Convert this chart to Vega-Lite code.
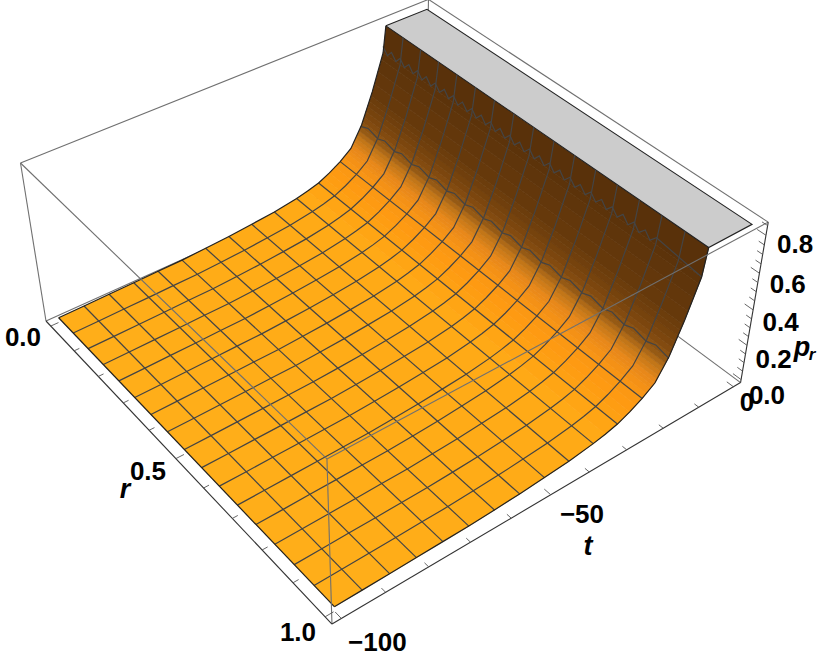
{
"$schema":"https://vega.github.io/schema/vega-lite/v6.json",
"width":830,"height":663,"padding":0,"autosize":{"type":"none"},
"background":"white",
"config":{"view":{"stroke":null}},
"datasets":{
"profile":[{"t":-100,"p":0.009},{"t":-93.75,"p":0.0106},{"t":-87.5,"p":0.013},{"t":-81.25,"p":0.015},{"t":-75,"p":0.018},{"t":-68.75,"p":0.02},{"t":-62.5,"p":0.027},{"t":-56.25,"p":0.035},{"t":-50,"p":0.046},{"t":-43.75,"p":0.059},{"t":-37.5,"p":0.08},{"t":-34.375,"p":0.095},{"t":-31.25,"p":0.114},{"t":-28.125,"p":0.145},{"t":-25,"p":0.184},{"t":-21.875,"p":0.234},{"t":-18.75,"p":0.345},{"t":-15.625,"p":0.511},{"t":-12.5,"p":0.706},{"t":-11.7,"p":0.85}],
"strips":[
{"ta":-100,"tb":-93.75,"pa":0.009,"pb":0.0106,"s":0},
{"ta":-93.75,"tb":-87.5,"pa":0.0106,"pb":0.013,"s":0.02},
{"ta":-87.5,"tb":-81.25,"pa":0.013,"pb":0.015,"s":0.04},
{"ta":-81.25,"tb":-75,"pa":0.015,"pb":0.018,"s":0.06},
{"ta":-75,"tb":-68.75,"pa":0.018,"pb":0.02,"s":0.08},
{"ta":-68.75,"tb":-62.5,"pa":0.02,"pb":0.027,"s":0.1},
{"ta":-62.5,"tb":-56.25,"pa":0.027,"pb":0.035,"s":0.12},
{"ta":-56.25,"tb":-50,"pa":0.035,"pb":0.046,"s":0.14},
{"ta":-50,"tb":-43.75,"pa":0.046,"pb":0.059,"s":0.16},
{"ta":-43.75,"tb":-37.5,"pa":0.059,"pb":0.08,"s":0.18},
{"ta":-37.5,"tb":-34.375,"pa":0.08,"pb":0.095,"s":0.21},
{"ta":-34.375,"tb":-31.25,"pa":0.095,"pb":0.114,"s":0.25},
{"ta":-31.25,"tb":-29.7,"pa":0.114,"pb":0.129,"s":0.29},
{"ta":-29.7,"tb":-28.125,"pa":0.129,"pb":0.145,"s":0.32},
{"ta":-28.125,"tb":-26.56,"pa":0.145,"pb":0.164,"s":0.35},
{"ta":-26.56,"tb":-25,"pa":0.164,"pb":0.184,"s":0.37},
{"ta":-25,"tb":-24,"pa":0.184,"pb":0.2,"s":0.39},
{"ta":-24,"tb":-23,"pa":0.2,"pb":0.216,"s":0.42},
{"ta":-23,"tb":-22.4,"pa":0.216,"pb":0.225,"s":0.45},
{"ta":-22.4,"tb":-21.875,"pa":0.225,"pb":0.234,"s":0.48},
{"ta":-21.875,"tb":-21.4,"pa":0.234,"pb":0.25,"s":0.5},
{"ta":-21.4,"tb":-21,"pa":0.25,"pb":0.265,"s":0.53},
{"ta":-21,"tb":-20.5,"pa":0.265,"pb":0.282,"s":0.56},
{"ta":-20.5,"tb":-20,"pa":0.282,"pb":0.3,"s":0.59},
{"ta":-20,"tb":-19.5,"pa":0.3,"pb":0.318,"s":0.62},
{"ta":-19.5,"tb":-19,"pa":0.318,"pb":0.336,"s":0.65},
{"ta":-19,"tb":-18.5,"pa":0.336,"pb":0.36,"s":0.68},
{"ta":-18.5,"tb":-18,"pa":0.36,"pb":0.385,"s":0.71},
{"ta":-18,"tb":-17.5,"pa":0.385,"pb":0.412,"s":0.74},
{"ta":-17.5,"tb":-17,"pa":0.412,"pb":0.44,"s":0.77},
{"ta":-17,"tb":-16.5,"pa":0.44,"pb":0.465,"s":0.8},
{"ta":-16.5,"tb":-16,"pa":0.465,"pb":0.49,"s":0.82},
{"ta":-16,"tb":-15,"pa":0.49,"pb":0.551,"s":0.85},
{"ta":-15,"tb":-14,"pa":0.551,"pb":0.612,"s":0.89},
{"ta":-14,"tb":-13,"pa":0.612,"pb":0.674,"s":0.93},
{"ta":-13,"tb":-12.5,"pa":0.674,"pb":0.706,"s":0.97},
{"ta":-12.5,"tb":-11.7,"pa":0.706,"pb":0.85,"s":1}
],
"tlines":[
{"t":-93.75,"r":[0,1],"p":[0.0106,0.0106]},
{"t":-87.5,"r":[0,1],"p":[0.013,0.013]},
{"t":-81.25,"r":[0,1],"p":[0.015,0.015]},
{"t":-75,"r":[0,1],"p":[0.018,0.018]},
{"t":-68.75,"r":[0,1],"p":[0.02,0.02]},
{"t":-62.5,"r":[0,1],"p":[0.027,0.027]},
{"t":-56.25,"r":[0,1],"p":[0.035,0.035]},
{"t":-50,"r":[0,1],"p":[0.046,0.046]},
{"t":-43.75,"r":[0,1],"p":[0.059,0.059]},
{"t":-37.5,"r":[0,1],"p":[0.08,0.08]},
{"t":-31.25,"r":[0,1],"p":[0.114,0.114]},
{"t":-25,"r":[0,1],"p":[0.184,0.184]},
{"t":-18.75,"r":[0,0.025,0.0625,0.0875,0.125,0.15,0.1875,0.2125,0.25,0.275,0.3125,0.3375,0.375,0.4,0.4375,0.4625,0.5,0.525,0.5625,0.5875,0.625,0.65,0.6875,0.7125,0.75,0.775,0.8125,0.8375,0.875,0.9,0.9375,0.9625,1],"p":[0.336,0.354,0.336,0.354,0.336,0.354,0.336,0.354,0.336,0.354,0.336,0.354,0.336,0.354,0.336,0.354,0.336,0.354,0.336,0.354,0.336,0.354,0.336,0.354,0.336,0.354,0.336,0.354,0.336,0.354,0.336,0.354,0.336]},
{"t":-12.5,"r":[0,0.016,0.031,0.047,0.0625,0.078,0.094,0.109,0.125,0.141,0.156,0.172,0.1875,0.203,0.219,0.234,0.25,0.266,0.281,0.297,0.3125,0.328,0.344,0.359,0.375,0.391,0.406,0.422,0.4375,0.453,0.469,0.484,0.5,0.516,0.531,0.547,0.5625,0.578,0.594,0.609,0.625,0.641,0.656,0.672,0.6875,0.703,0.719,0.734,0.75,0.766,0.781,0.797,0.8125,0.828,0.844,0.859,0.875,1],"p":[0.742,0.708,0.742,0.708,0.742,0.708,0.742,0.708,0.742,0.708,0.742,0.708,0.742,0.708,0.742,0.708,0.742,0.708,0.742,0.708,0.742,0.708,0.742,0.708,0.742,0.708,0.742,0.708,0.742,0.708,0.742,0.708,0.742,0.708,0.742,0.708,0.742,0.708,0.742,0.708,0.742,0.708,0.742,0.708,0.742,0.708,0.742,0.708,0.742,0.708,0.742,0.708,0.742,0.708,0.742,0.708,0.742,0.706]}
],
"box":[
{"id":"a","g":"back","u":[0,1],"v":[0,0],"w":[1,1]},
{"id":"b","g":"back","u":[1,1],"v":[0,1],"w":[1,1]},
{"id":"c","g":"back","u":[0,0],"v":[0,0],"w":[0,1]},
{"id":"d","g":"back","u":[0,1],"v":[0,0],"w":[0,0]},
{"id":"e","g":"back","u":[1,1],"v":[0,1],"w":[0,0]},
{"id":"f","g":"back","u":[1,1],"v":[0,0],"w":[0,1]},
{"id":"g","g":"front","u":[0,0],"v":[0,1],"w":[1,1]},
{"id":"h","g":"front","u":[0,1],"v":[1,1],"w":[1,1]},
{"id":"i","g":"front","u":[0,0],"v":[1,1],"w":[0,1]},
{"id":"j","g":"axis","u":[0,0],"v":[0,1],"w":[0,0]},
{"id":"k","g":"axis","u":[0,1],"v":[1,1],"w":[0,0]},
{"id":"l","g":"axis","u":[1,1],"v":[1,1],"w":[0,1]}
],
"ticks":[
{"axis":"r","val":0,"len":0.018},{"axis":"r","val":0.1,"len":0.012},{"axis":"r","val":0.2,"len":0.012},{"axis":"r","val":0.3,"len":0.012},{"axis":"r","val":0.4,"len":0.012},{"axis":"r","val":0.5,"len":0.018},{"axis":"r","val":0.6,"len":0.012},{"axis":"r","val":0.7,"len":0.012},{"axis":"r","val":0.8,"len":0.012},{"axis":"r","val":0.9,"len":0.012},{"axis":"r","val":1,"len":0.018},
{"axis":"t","val":-100,"len":0.018},{"axis":"t","val":-90,"len":0.012},{"axis":"t","val":-80,"len":0.012},{"axis":"t","val":-70,"len":0.012},{"axis":"t","val":-60,"len":0.012},{"axis":"t","val":-50,"len":0.018},{"axis":"t","val":-40,"len":0.012},{"axis":"t","val":-30,"len":0.012},{"axis":"t","val":-20,"len":0.012},{"axis":"t","val":-10,"len":0.012},{"axis":"t","val":0,"len":0.018},
{"axis":"p","val":0,"len":0.022},{"axis":"p","val":0.05,"len":0.014},{"axis":"p","val":0.1,"len":0.014},{"axis":"p","val":0.15,"len":0.014},{"axis":"p","val":0.2,"len":0.022},{"axis":"p","val":0.25,"len":0.014},{"axis":"p","val":0.3,"len":0.014},{"axis":"p","val":0.35,"len":0.014},{"axis":"p","val":0.4,"len":0.022},{"axis":"p","val":0.45,"len":0.014},{"axis":"p","val":0.5,"len":0.014},{"axis":"p","val":0.55,"len":0.014},{"axis":"p","val":0.6,"len":0.022},{"axis":"p","val":0.65,"len":0.014},{"axis":"p","val":0.7,"len":0.014},{"axis":"p","val":0.75,"len":0.014},{"axis":"p","val":0.8,"len":0.022},{"axis":"p","val":0.85,"len":0.014}
],
"labels":[
{"kind":"tick","text":"0.0","u":-0.0633,"v":0.0182,"w":0},
{"kind":"tick","text":"0.5","u":-0.0603,"v":0.498,"w":0},
{"kind":"tick","text":"1.0","u":-0.0577,"v":0.9806,"w":0},
{"kind":"tick","text":"−100","u":0.037,"v":1.08,"w":0},
{"kind":"tick","text":"−50","u":0.5115,"v":1.0726,"w":0},
{"kind":"tick","text":"0","u":0.967,"v":1.0487,"w":0},
{"kind":"tick","text":"0.0","u":1,"v":1.068,"w":0.035},
{"kind":"tick","text":"0.2","u":1,"v":1.068,"w":0.269},
{"kind":"tick","text":"0.4","u":1,"v":1.068,"w":0.503},
{"kind":"tick","text":"0.6","u":1,"v":1.068,"w":0.737},
{"kind":"tick","text":"0.8","u":1,"v":1.068,"w":0.971},
{"kind":"name","text":"r","u":-0.1186,"v":0.512,"w":0},
{"kind":"name","text":"t","u":0.4677,"v":1.1366,"w":0},
{"kind":"name","text":"p","u":1,"v":1.126,"w":0.4516},
{"kind":"sub","text":"r","u":1,"v":1.1504,"w":0.4507}
]
},
"encoding":{
"x":{"field":"px","type":"quantitative","scale":{"domain":[0,830],"nice":false,"zero":false},"axis":null},
"y":{"field":"py","type":"quantitative","scale":{"domain":[663,0],"nice":false,"zero":false},"axis":null}
},
"layer":[
{"data":{"name":"box"},
 "transform":[{"filter":"datum.g=='back'"},{"flatten":["u","v","w"]},
  {"calculate":"(46+434*datum.u+230.2*datum.v-26.93*datum.w)/(1+0.127*datum.u-0.168*datum.v-0.0696*datum.w)","as":"px"},
  {"calculate":"(321-152.3*datum.u+198.2*datum.v-169.34*datum.w)/(1+0.127*datum.u-0.168*datum.v-0.0696*datum.w)","as":"py"},
  {"calculate":"datum.u+datum.v+datum.w","as":"o"}],
 "mark":{"type":"line","color":"#707070","strokeWidth":1.1},
 "encoding":{"detail":{"field":"id"},"order":{"field":"o"}}},
{"data":{"name":"strips"},
 "transform":[
  {"calculate":"[datum.ta,datum.ta,datum.tb,datum.tb]","as":"t"},
  {"calculate":"[datum.pa,datum.pa,datum.pb,datum.pb]","as":"p"},
  {"calculate":"[0,1,1,0]","as":"r"},
  {"calculate":"[0,1,2,3]","as":"o"},
  {"flatten":["t","p","r","o"]},
  {"calculate":"0.02+0.0096*(datum.t+100)","as":"u"},
  {"calculate":"0.02+0.96*datum.r","as":"v"},
  {"calculate":"0.02+datum.p/0.85*0.96","as":"w"},
  {"calculate":"(46+434*datum.u+230.2*datum.v-26.93*datum.w)/(1+0.127*datum.u-0.168*datum.v-0.0696*datum.w)","as":"px"},
  {"calculate":"(321-152.3*datum.u+198.2*datum.v-169.34*datum.w)/(1+0.127*datum.u-0.168*datum.v-0.0696*datum.w)","as":"py"}],
 "mark":{"type":"line","strokeWidth":0.7},
 "encoding":{
  "detail":{"field":"ta"},
  "order":{"field":"o"},
  "fill":{"field":"s","type":"quantitative","legend":null,"scale":{"domain":[0,0.2,0.35,0.5,0.6,0.65,0.72,0.85,1],"range":["#FFAE19","#FFAA16","#FE9A12","#E8881A","#BE7418","#965A14","#80490F","#66390B","#59310A"]}},
  "stroke":{"field":"s","type":"quantitative","legend":null,"scale":{"domain":[0,0.2,0.35,0.5,0.6,0.65,0.72,0.85,1],"range":["#FFAE19","#FFAA16","#FE9A12","#E8881A","#BE7418","#965A14","#80490F","#66390B","#59310A"]}}}},
{"data":{"values":[{"t":[-11.7,-11.7,0,0,-11.7],"r":[0,1,1,0,0],"o":[0,1,2,3,4],"p":0.85}]},
 "transform":[{"flatten":["t","r","o"]},
  {"calculate":"0.02+0.0096*(datum.t+100)","as":"u"},
  {"calculate":"0.02+0.96*datum.r","as":"v"},
  {"calculate":"0.02+datum.p/0.85*0.96","as":"w"},
  {"calculate":"(46+434*datum.u+230.2*datum.v-26.93*datum.w)/(1+0.127*datum.u-0.168*datum.v-0.0696*datum.w)","as":"px"},
  {"calculate":"(321-152.3*datum.u+198.2*datum.v-169.34*datum.w)/(1+0.127*datum.u-0.168*datum.v-0.0696*datum.w)","as":"py"}],
 "mark":{"type":"line","fill":"#CCCCCC","stroke":"#222222","strokeWidth":1.1},
 "encoding":{"order":{"field":"o"}}},
{"data":{"name":"profile"},
 "transform":[{"calculate":"[0.0625,0.125,0.1875,0.25,0.3125,0.375,0.4375,0.5,0.5625,0.625,0.6875,0.75,0.8125,0.875,0.9375]","as":"r"},{"flatten":["r"]},
  {"calculate":"0.02+0.0096*(datum.t+100)","as":"u"},
  {"calculate":"0.02+0.96*datum.r","as":"v"},
  {"calculate":"0.02+datum.p/0.85*0.96","as":"w"},
  {"calculate":"(46+434*datum.u+230.2*datum.v-26.93*datum.w)/(1+0.127*datum.u-0.168*datum.v-0.0696*datum.w)","as":"px"},
  {"calculate":"(321-152.3*datum.u+198.2*datum.v-169.34*datum.w)/(1+0.127*datum.u-0.168*datum.v-0.0696*datum.w)","as":"py"}],
 "mark":{"type":"line","color":"#444444","strokeWidth":1.2},
 "encoding":{"detail":{"field":"r"},"order":{"field":"t"}}},
{"data":{"name":"tlines"},
 "transform":[{"flatten":["r","p"]},
  {"calculate":"0.02+0.0096*(datum.t+100)","as":"u"},
  {"calculate":"0.02+0.96*datum.r","as":"v"},
  {"calculate":"0.02+datum.p/0.85*0.96","as":"w"},
  {"calculate":"(46+434*datum.u+230.2*datum.v-26.93*datum.w)/(1+0.127*datum.u-0.168*datum.v-0.0696*datum.w)","as":"px"},
  {"calculate":"(321-152.3*datum.u+198.2*datum.v-169.34*datum.w)/(1+0.127*datum.u-0.168*datum.v-0.0696*datum.w)","as":"py"}],
 "mark":{"type":"line","color":"#444444","strokeWidth":1.2},
 "encoding":{"detail":{"field":"t"},"order":{"field":"r"}}},
{"data":{"name":"profile"},
 "transform":[{"calculate":"[0,1]","as":"r"},{"flatten":["r"]},
  {"calculate":"0.02+0.0096*(datum.t+100)","as":"u"},
  {"calculate":"0.02+0.96*datum.r","as":"v"},
  {"calculate":"0.02+datum.p/0.85*0.96","as":"w"},
  {"calculate":"(46+434*datum.u+230.2*datum.v-26.93*datum.w)/(1+0.127*datum.u-0.168*datum.v-0.0696*datum.w)","as":"px"},
  {"calculate":"(321-152.3*datum.u+198.2*datum.v-169.34*datum.w)/(1+0.127*datum.u-0.168*datum.v-0.0696*datum.w)","as":"py"}],
 "mark":{"type":"line","color":"#222222","strokeWidth":1.2},
 "encoding":{"detail":{"field":"r"},"order":{"field":"t"}}},
{"data":{"values":[{"r":[0,1],"t":-100,"p":0.009}]},
 "transform":[{"flatten":["r"]},
  {"calculate":"0.02+0.0096*(datum.t+100)","as":"u"},
  {"calculate":"0.02+0.96*datum.r","as":"v"},
  {"calculate":"0.02+datum.p/0.85*0.96","as":"w"},
  {"calculate":"(46+434*datum.u+230.2*datum.v-26.93*datum.w)/(1+0.127*datum.u-0.168*datum.v-0.0696*datum.w)","as":"px"},
  {"calculate":"(321-152.3*datum.u+198.2*datum.v-169.34*datum.w)/(1+0.127*datum.u-0.168*datum.v-0.0696*datum.w)","as":"py"}],
 "mark":{"type":"line","color":"#222222","strokeWidth":1.2},
 "encoding":{"order":{"field":"r"}}},
{"data":{"name":"box"},
 "transform":[{"filter":"datum.g=='front'"},{"flatten":["u","v","w"]},
  {"calculate":"(46+434*datum.u+230.2*datum.v-26.93*datum.w)/(1+0.127*datum.u-0.168*datum.v-0.0696*datum.w)","as":"px"},
  {"calculate":"(321-152.3*datum.u+198.2*datum.v-169.34*datum.w)/(1+0.127*datum.u-0.168*datum.v-0.0696*datum.w)","as":"py"},
  {"calculate":"datum.u+datum.v+datum.w","as":"o"}],
 "mark":{"type":"line","color":"#707070","strokeWidth":1.1},
 "encoding":{"detail":{"field":"id"},"order":{"field":"o"}}},
{"data":{"name":"box"},
 "transform":[{"filter":"datum.g=='axis'"},{"flatten":["u","v","w"]},
  {"calculate":"(46+434*datum.u+230.2*datum.v-26.93*datum.w)/(1+0.127*datum.u-0.168*datum.v-0.0696*datum.w)","as":"px"},
  {"calculate":"(321-152.3*datum.u+198.2*datum.v-169.34*datum.w)/(1+0.127*datum.u-0.168*datum.v-0.0696*datum.w)","as":"py"},
  {"calculate":"datum.u+datum.v+datum.w","as":"o"}],
 "mark":{"type":"line","color":"#333333","strokeWidth":1.1},
 "encoding":{"detail":{"field":"id"},"order":{"field":"o"}}},
{"data":{"name":"ticks"},
 "transform":[{"calculate":"[0,1]","as":"e"},{"flatten":["e"]},
  {"calculate":"datum.axis=='r'?datum.e*datum.len:(datum.axis=='t'?0.02+0.0096*(datum.val+100):1)","as":"u"},
  {"calculate":"datum.axis=='r'?0.02+0.96*datum.val:1-datum.e*datum.len","as":"v"},
  {"calculate":"datum.axis=='p'?0.02+datum.val/0.85*0.96:0","as":"w"},
  {"calculate":"(46+434*datum.u+230.2*datum.v-26.93*datum.w)/(1+0.127*datum.u-0.168*datum.v-0.0696*datum.w)","as":"px"},
  {"calculate":"(321-152.3*datum.u+198.2*datum.v-169.34*datum.w)/(1+0.127*datum.u-0.168*datum.v-0.0696*datum.w)","as":"py"},
  {"calculate":"datum.axis+datum.val","as":"tid"}],
 "mark":{"type":"line","color":"#555555","strokeWidth":0.9},
 "encoding":{"detail":{"field":"tid"},"order":{"field":"e"}}},
{"data":{"name":"labels"},
 "transform":[{"filter":"datum.kind=='tick'"},
  {"calculate":"(46+434*datum.u+230.2*datum.v-26.93*datum.w)/(1+0.127*datum.u-0.168*datum.v-0.0696*datum.w)","as":"px"},
  {"calculate":"(321-152.3*datum.u+198.2*datum.v-169.34*datum.w)/(1+0.127*datum.u-0.168*datum.v-0.0696*datum.w)","as":"py"}],
 "mark":{"type":"text","font":"Liberation Sans","fontWeight":"bold","fontSize":26,"color":"#000000","align":"center","baseline":"middle"},
 "encoding":{"text":{"field":"text"}}},
{"data":{"name":"labels"},
 "transform":[{"filter":"datum.kind=='name'"},
  {"calculate":"(46+434*datum.u+230.2*datum.v-26.93*datum.w)/(1+0.127*datum.u-0.168*datum.v-0.0696*datum.w)","as":"px"},
  {"calculate":"(321-152.3*datum.u+198.2*datum.v-169.34*datum.w)/(1+0.127*datum.u-0.168*datum.v-0.0696*datum.w)","as":"py"}],
 "mark":{"type":"text","font":"Liberation Sans","fontWeight":"bold","fontStyle":"italic","fontSize":27,"color":"#000000","align":"center","baseline":"middle"},
 "encoding":{"text":{"field":"text"}}},
{"data":{"name":"labels"},
 "transform":[{"filter":"datum.kind=='sub'"},
  {"calculate":"(46+434*datum.u+230.2*datum.v-26.93*datum.w)/(1+0.127*datum.u-0.168*datum.v-0.0696*datum.w)","as":"px"},
  {"calculate":"(321-152.3*datum.u+198.2*datum.v-169.34*datum.w)/(1+0.127*datum.u-0.168*datum.v-0.0696*datum.w)","as":"py"}],
 "mark":{"type":"text","font":"Liberation Sans","fontWeight":"bold","fontStyle":"italic","fontSize":17,"color":"#000000","align":"center","baseline":"middle"},
 "encoding":{"text":{"field":"text"}}}
],
"resolve":{"scale":{"fill":"independent","stroke":"independent"}}
}
